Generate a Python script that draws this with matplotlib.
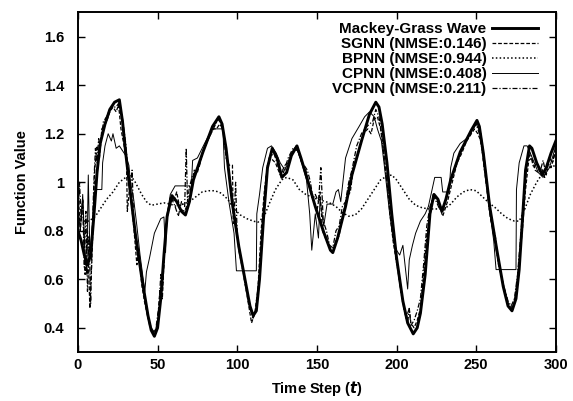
import matplotlib
matplotlib.use("Agg")
import matplotlib.pyplot as plt

plt.rcParams.update({
    "font.family": ["Liberation Sans", "DejaVu Sans"],
    "font.weight": "bold",
    "font.size": 10,
})

# Mackey-Grass reference wave
mg_x = [0, 2, 4, 6, 8, 10, 12, 14, 17, 20, 23, 26, 28, 30, 32.5, 36, 40, 44, 46, 48,
        50, 52, 54, 56, 59, 62, 65, 67.5, 70, 72.5, 78.5, 84.5, 88.5, 90.5, 93, 97, 101,
        105, 108, 110, 112, 114, 116.5, 119, 122, 125, 128, 131, 134, 137.5, 140, 143,
        149, 154, 158.5, 160, 163, 168, 172, 178, 183, 187, 189, 191, 194, 197, 200, 204,
        207, 210.5, 213, 215, 218, 221, 223.5, 226, 228.5, 231, 234, 240, 247, 250.5, 252,
        254.5, 258.5, 263, 267, 270, 272.5, 275, 277, 279, 281, 283.5, 285, 288, 291.5,
        294, 297, 300]
mg_y = [0.80, 0.76, 0.70, 0.66, 0.70, 0.86, 1.04, 1.16, 1.24, 1.30, 1.33, 1.34, 1.25,
        1.12, 0.98, 0.79, 0.61, 0.45, 0.39, 0.365, 0.40, 0.52, 0.70, 0.86, 0.945, 0.92,
        0.88, 0.865, 0.92, 1.01, 1.125, 1.23, 1.27, 1.24, 1.14, 0.91, 0.735, 0.595, 0.49,
        0.45, 0.47, 0.60, 0.85, 1.06, 1.14, 1.10, 1.02, 1.04, 1.11, 1.15, 1.10, 1.035,
        0.90, 0.80, 0.72, 0.71, 0.77, 0.90, 1.03, 1.17, 1.28, 1.33, 1.31, 1.24, 1.08, 0.87,
        0.69, 0.51, 0.42, 0.375, 0.40, 0.46, 0.62, 0.87, 0.95, 0.93, 0.88, 0.93, 1.01,
        1.125, 1.215, 1.255, 1.23, 1.12, 0.90, 0.72, 0.57, 0.49, 0.47, 0.52, 0.64, 0.84,
        1.05, 1.15, 1.14, 1.08, 1.03, 1.06, 1.12, 1.17]

# SGNN prediction
sg_x = [0, 1.5, 3, 4.5, 6, 7.5, 9, 10.5, 12, 13.5, 15, 18, 20, 22, 24, 25.5, 27, 29,
        30.5, 31, 32.5, 35, 37, 38, 40, 42, 44, 46, 48, 50, 51.5, 53, 54.5, 56, 58, 60,
        62, 64, 67, 70, 73, 75, 78, 82, 85, 87, 89, 91, 93, 95, 97, 97.5, 99, 101, 104,
        107, 109, 111, 113, 115, 117, 119, 121, 124, 127, 130, 133, 136, 138, 141, 143,
        146, 148, 150, 152, 153.5, 156, 158, 160, 162, 164, 166, 169, 171, 173, 176, 179,
        182, 184, 186, 188, 190, 192, 194, 196, 198, 201, 204, 206, 208, 209, 211, 213,
        215, 217, 219, 221, 223, 225, 227, 229, 232, 235, 238, 241, 244, 247, 249, 251,
        253, 255, 257, 259, 262, 264, 267, 270, 273, 275, 277, 279, 281, 283, 285, 287,
        289, 291, 293, 295, 297, 300]
sg_y = [0.97, 0.80, 0.93, 0.62, 0.80, 0.48, 0.72, 1.05, 1.15, 1.10, 1.22, 1.25, 1.29,
        1.31, 1.29, 1.32, 1.22, 1.15, 1.09, 0.88, 0.98, 0.82, 0.66, 0.72, 0.58, 0.50,
        0.44, 0.40, 0.38, 0.42, 0.56, 0.52, 0.74, 0.85, 0.94, 0.92, 0.96, 0.89, 0.88,
        0.93, 1.05, 1.04, 1.12, 1.18, 1.22, 1.22, 1.24, 1.22, 1.10, 1.07, 1.07, 0.83,
        0.86, 0.72, 0.62, 0.50, 0.42, 0.46, 0.56, 0.80, 0.96, 1.07, 1.10, 1.08, 1.03,
        1.07, 1.09, 1.14, 1.13, 1.07, 1.05, 0.96, 0.92, 0.88, 0.96, 0.80, 0.76, 0.73,
        0.71, 0.76, 0.78, 0.86, 0.94, 0.96, 1.06, 1.12, 1.20, 1.22, 1.20, 1.26, 1.27,
        1.22, 1.12, 1.00, 0.86, 0.75, 0.63, 0.50, 0.44, 0.48, 0.42, 0.40, 0.43, 0.48,
        0.62, 0.78, 0.86, 0.95, 0.93, 0.90, 0.86, 0.92, 1.00, 1.08, 1.12, 1.17, 1.20,
        1.22, 1.20, 1.17, 1.06, 0.96, 0.85, 0.78, 0.66, 0.58, 0.50, 0.48, 0.55, 0.68,
        0.80, 0.97, 1.09, 1.10, 1.05, 1.04, 1.06, 1.02, 1.08, 1.06, 1.13]

# BPNN prediction
bp_x = [0, 3, 7, 11, 14, 18, 22, 26, 30, 33, 36, 40, 43, 46, 50, 54, 58, 62, 66, 70,
        74, 78, 82, 86, 90, 94, 98, 102, 106, 110, 113, 117, 120, 124, 128, 131, 135,
        139, 143, 148, 153, 158, 162, 166, 170, 174, 178, 182, 186, 190, 194, 197, 200,
        204, 208, 212, 216, 220, 225, 230, 234, 238, 242, 246, 250, 254, 258, 262, 266,
        270, 274, 277, 280, 284, 288, 292, 296, 300]
bp_y = [0.86, 0.84, 0.84, 0.86, 0.89, 0.93, 0.96, 1.00, 1.02, 1.03, 1.00, 0.95, 0.92,
        0.905, 0.91, 0.915, 0.91, 0.90, 0.91, 0.92, 0.94, 0.96, 0.965, 0.965, 0.955,
        0.93, 0.89, 0.865, 0.85, 0.84, 0.835, 0.86, 0.91, 0.97, 1.01, 1.02, 1.01, 0.97,
        0.95, 0.935, 0.925, 0.915, 0.90, 0.875, 0.86, 0.865, 0.89, 0.93, 0.97, 1.01,
        1.025, 1.03, 1.01, 0.97, 0.93, 0.905, 0.895, 0.89, 0.89, 0.89, 0.91, 0.94, 0.96,
        0.97, 0.965, 0.94, 0.915, 0.895, 0.87, 0.85, 0.84, 0.84, 0.88, 0.95, 1.00, 1.04,
        1.06, 1.07]

# CPNN prediction
cp_x = [0, 1.5, 3, 4.5, 5.5, 6.5, 7.5, 9, 10, 11, 15, 15.5, 17, 19, 21, 22, 24, 26,
        28, 30, 32, 33, 35, 37, 39, 41, 42, 43, 45, 48, 52, 54, 55, 56, 58, 61, 70, 71,
        72, 75, 79.5, 83.5, 85, 91, 92, 95, 98, 99.5, 112, 112.3, 114, 116, 119, 121.5,
        124.5, 127, 130, 134, 137, 140.5, 143.5, 145.5, 146.8, 149, 151, 152, 154.3,
        156.4, 160, 162, 163.5, 165, 168, 172, 176.5, 180, 183, 186, 188, 190.5, 192.5,
        195.7, 198, 200, 202, 204, 206, 207, 208, 210, 212, 215, 218, 220, 222, 224, 228,
        229, 233, 234, 236, 240, 244, 247, 250, 253, 255.5, 258.5, 261, 262.5, 275,
        275.3, 277, 280, 282, 284, 286.5, 289, 292, 296, 300]
cp_y = [0.90, 0.80, 0.95, 0.70, 0.62, 1.03, 0.70, 0.82, 0.95, 0.97, 0.97, 1.08, 1.15,
        1.20, 1.17, 1.20, 1.14, 1.15, 1.13, 1.11, 1.07, 1.00, 0.93, 0.82, 0.70, 0.60,
        0.55, 0.63, 0.69, 0.79, 0.85, 0.857, 0.71, 0.87, 0.95, 0.985, 0.985, 0.96, 1.09,
        1.10, 1.16, 1.21, 1.22, 1.22, 1.06, 0.91, 0.79, 0.635, 0.635, 0.87, 0.95, 1.06,
        1.14, 1.15, 1.12, 1.08, 1.05, 1.12, 1.15, 1.08, 1.01, 0.87, 0.72, 0.87, 0.77,
        0.93, 0.82, 0.91, 0.91, 0.96, 0.97, 0.92, 1.10, 1.18, 1.23, 1.27, 1.29, 1.27,
        1.22, 1.17, 1.06, 0.87, 0.76, 0.72, 0.70, 0.74, 0.62, 0.56, 0.68, 0.74, 0.79,
        0.84, 0.87, 0.90, 0.96, 1.02, 1.02, 0.96, 0.96, 1.06, 1.12, 1.16, 1.18, 1.21,
        1.24, 1.20, 1.08, 0.88, 0.76, 0.64, 0.64, 0.97, 1.08, 1.15, 1.15, 1.12, 1.08,
        1.04, 1.02, 1.06, 1.15]

# VCPNN prediction
vc_x = [0, 1, 2, 3, 4, 5, 6, 7, 8, 9, 10, 11, 12, 13, 14, 16, 18, 20, 22, 24, 26, 28,
        30, 31.5, 33, 34, 35, 37, 39, 41, 43, 45, 47, 49, 51, 52, 53, 55, 57, 59, 61, 63,
        65, 67, 68, 68.8, 70, 72, 76, 79, 82, 85, 88, 90, 92, 94, 96, 98, 99, 100, 102,
        105, 108, 110, 112, 114, 116, 118, 120, 123, 126, 129, 132, 135, 138, 141, 144,
        146, 147.5, 149, 151, 152.5, 154, 156, 158, 160, 162, 164, 166, 168, 170, 172,
        175, 178, 180, 183, 185, 187, 189, 191, 193, 195, 197, 200, 203, 205, 207, 208,
        209, 211, 213, 215, 217, 219, 221, 223, 225, 227, 229, 231, 233, 236, 239, 242,
        245, 248, 250, 252, 254, 256, 258, 261, 264, 267, 270, 272, 274, 276, 278, 280,
        282, 284, 286, 288, 290, 292, 294, 296, 298, 300]
vc_y = [0.78, 1.00, 0.85, 0.93, 0.65, 0.88, 0.55, 0.78, 0.50, 0.80, 1.00, 1.14, 1.08,
        1.18, 1.14, 1.25, 1.27, 1.30, 1.31, 1.31, 1.33, 1.26, 1.16, 1.04, 0.98, 1.05,
        0.85, 0.72, 0.66, 0.56, 0.49, 0.41, 0.38, 0.40, 0.50, 0.62, 0.55, 0.80, 0.90,
        0.93, 0.90, 0.86, 0.92, 0.90, 1.14, 0.92, 0.98, 1.03, 1.06, 1.14, 1.18, 1.22,
        1.26, 1.24, 1.18, 1.08, 0.98, 0.86, 1.00, 0.78, 0.70, 0.58, 0.48, 0.44, 0.48,
        0.62, 0.85, 1.02, 1.10, 1.12, 1.06, 1.04, 1.10, 1.14, 1.13, 1.08, 1.05, 1.00,
        0.93, 0.95, 0.92, 1.06, 0.84, 0.80, 0.74, 0.73, 0.80, 0.82, 0.90, 0.92, 1.00,
        1.05, 1.15, 1.20, 1.22, 1.24, 1.25, 1.30, 1.27, 1.18, 1.05, 0.95, 0.82, 0.68,
        0.54, 0.47, 0.42, 0.48, 0.41, 0.43, 0.47, 0.52, 0.66, 0.82, 0.90, 0.94, 0.92,
        0.89, 0.88, 0.93, 0.98, 1.05, 1.10, 1.15, 1.18, 1.22, 1.24, 1.20, 1.12, 1.02,
        0.90, 0.78, 0.67, 0.58, 0.51, 0.49, 0.52, 0.62, 0.78, 0.96, 1.08, 1.12, 1.06,
        1.08, 1.04, 1.09, 1.03, 1.10, 1.08, 1.15]

labels = ["Mackey-Grass Wave", "SGNN (NMSE:0.146)", "BPNN (NMSE:0.944)",
          "CPNN (NMSE:0.408)", "VCPNN (NMSE:0.211)"]

fig = plt.figure(figsize=(5.73, 4.01), dpi=100)
ax = fig.add_axes([0.136, 0.122, 0.834, 0.847])

ax.plot(mg_x, mg_y, color="black", linewidth=2.1, label=labels[0])
ax.plot(sg_x, sg_y, color="black", linewidth=0.9, linestyle=(0, (3, 1.5)), label=labels[1])
ax.plot(bp_x, bp_y, color="black", linewidth=1.1, linestyle=(0, (1, 1.5)), label=labels[2])
ax.plot(cp_x, cp_y, color="black", linewidth=0.7, label=labels[3])
ax.plot(vc_x, vc_y, color="black", linewidth=0.9, linestyle=(0, (4, 1.5, 1, 1.5)), label=labels[4])

ax.set_xlim(0, 300)
ax.set_ylim(0.3, 1.7)
ax.set_xticks([0, 50, 100, 150, 200, 250, 300])
ax.set_yticks([0.4, 0.6, 0.8, 1.0, 1.2, 1.4, 1.6])
ax.set_yticklabels(["0.4", "0.6", "0.8", "1", "1.2", "1.4", "1.6"])
ax.tick_params(direction="in", top=True, right=True, length=5, width=1, labelsize=10.5)
ax.tick_params(axis="y", pad=10)
ax.tick_params(axis="x", pad=4)
for s in ax.spines.values():
    s.set_linewidth(1.4)

ax.set_xlabel("Time Step ($\\mathit{t}$)", fontsize=10.5, fontweight="bold")
ax.set_ylabel("Function Value", fontsize=10.5, fontweight="bold")
ax.xaxis.set_label_coords(0.5, -0.078)
ax.yaxis.set_label_coords(-0.103, 0.5)

ax.legend(loc="upper right", bbox_to_anchor=(0.962, 0.972), frameon=False,
          markerfirst=False, handlelength=3.0, handletextpad=0.35,
          labelspacing=0.07, borderaxespad=0.0, borderpad=0.0,
          prop={"weight": "bold", "size": 11})

fig.savefig("out.png", dpi=100)
